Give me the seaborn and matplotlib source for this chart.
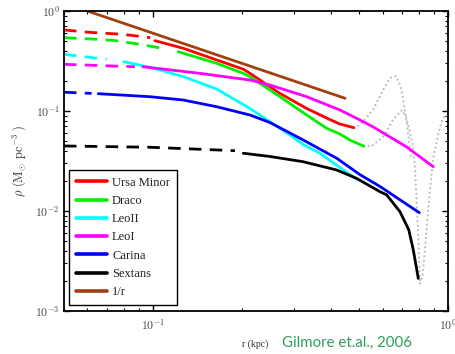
import numpy as np
import pandas as pd
import matplotlib
matplotlib.use("Agg")
import matplotlib.pyplot as plt
import seaborn as sns
from matplotlib.ticker import LogLocator, NullFormatter, FuncFormatter

sns.set_style("ticks")
plt.rcParams["mathtext.fontset"] = "cm"
plt.rcParams["font.family"] = ["DejaVu Sans"]

# ---------------- data (r in kpc, rho in Msun pc^-3) ----------------
um_dash_r = [0.05, 0.061, 0.079, 0.098]
um_dash_rho = [0.646, 0.612, 0.585, 0.541]
um_r = [0.1016, 0.1267, 0.1644, 0.2024, 0.2133, 0.2306, 0.2492, 0.2694, 0.332, 0.388, 0.430, 0.480]
um_rho = [0.505, 0.424, 0.324, 0.262, 0.238, 0.204, 0.175, 0.150, 0.106, 0.0851, 0.0741, 0.0681]

dr_dash_r = [0.05, 0.065, 0.075, 0.09, 0.111]
dr_dash_rho = [0.541, 0.521, 0.505, 0.465, 0.417]
dr_r = [0.1218, 0.1644, 0.2024, 0.2133, 0.2306, 0.2492, 0.2694, 0.332, 0.388, 0.430, 0.465, 0.519]
dr_rho = [0.392, 0.300, 0.238, 0.220, 0.189, 0.162, 0.139, 0.0912, 0.0671, 0.0589, 0.0513, 0.0444]

l2_dash_r = [0.05, 0.0697]
l2_dash_rho = [0.369, 0.329]
l2_r = [0.0797, 0.0977, 0.1267, 0.1644, 0.2133, 0.2492, 0.2913, 0.3232, 0.3683, 0.4195, 0.4903]
l2_rho = [0.311, 0.274, 0.221, 0.166, 0.106, 0.0782, 0.0575, 0.0462, 0.0378, 0.0287, 0.0207]

l1_dash_r = [0.05, 0.0869]
l1_dash_rho = [0.293, 0.277]
l1_r = [0.0925, 0.1443, 0.2133, 0.2492, 0.3319, 0.4304, 0.5031, 0.5581, 0.7244, 0.8916]
l1_rho = [0.277, 0.238, 0.204, 0.182, 0.139, 0.1023, 0.0813, 0.0692, 0.0437, 0.0277]

ca_dash_r = [0.05, 0.062]
ca_dash_rho = [0.154, 0.150]
ca_r = [0.0653, 0.0977, 0.1267, 0.1644, 0.2133, 0.2492, 0.2913, 0.3232, 0.4195, 0.5031, 0.5881, 0.7994]
ca_rho = [0.149, 0.139, 0.1288, 0.1104, 0.0912, 0.0767, 0.0603, 0.0513, 0.0337, 0.0231, 0.0176, 0.00962]

se_dash_r = [0.05, 0.0977, 0.1897]
se_dash_rho = [0.0447, 0.0434, 0.0401]
se_r = [0.2024, 0.2492, 0.3232, 0.4195, 0.4903, 0.5881, 0.6197, 0.6876, 0.7366, 0.7629, 0.7931]
se_rho = [0.0378, 0.0351, 0.0311, 0.0257, 0.0212, 0.0156, 0.0145, 0.00984, 0.00646, 0.00407, 0.00212]

inv_r = [0.06, 0.448]
inv_rho = [1.0, 0.134]

grey_a_r = [0.480, 0.503, 0.557, 0.602, 0.636, 0.666, 0.688, 0.704, 0.726, 0.749]
grey_a_rho = [0.0681, 0.0724, 0.1023, 0.1622, 0.2138, 0.2239, 0.182, 0.1349, 0.0724, 0.0347]
grey_b_r = [0.519, 0.5525, 0.6023, 0.6512, 0.6985, 0.7204, 0.7432, 0.7611, 0.7730, 0.7912,
            0.8037, 0.8228, 0.8422, 0.8622, 0.8896, 0.9178, 0.9395, 0.9618, 0.9922]
grey_b_rho = [0.0444, 0.0447, 0.0550, 0.0813, 0.1023, 0.0871, 0.0617, 0.0447, 0.0269, 0.00646,
              0.00186, 0.00240, 0.00562, 0.0126, 0.0331, 0.0513, 0.0692, 0.0851, 0.0891]

labels = ["Ursa Minor", "Draco", "LeoII", "LeoI", "Carina", "Sextans", "1/r"]
colors = ["#ff0000", "#00ee00", "#00ffff", "#ff00ff", "#0000ff", "#000000", "#a0400f"]

dashed = [(um_dash_r, um_dash_rho), (dr_dash_r, dr_dash_rho), (l2_dash_r, l2_dash_rho),
          (l1_dash_r, l1_dash_rho), (ca_dash_r, ca_dash_rho), (se_dash_r, se_dash_rho), None]
solid = [(um_r, um_rho), (dr_r, dr_rho), (l2_r, l2_rho), (l1_r, l1_rho),
         (ca_r, ca_rho), (se_r, se_rho), (inv_r, inv_rho)]

# ---------------- figure ----------------
fig = plt.figure(figsize=(4.56, 3.54), dpi=100)
ax = fig.add_axes([64/456, 43/354, 384/456, 300/354])

lw = 2.0
for (gr, grho) in [(grey_a_r, grey_a_rho), (grey_b_r, grey_b_rho)]:
    df = pd.DataFrame({"r": gr, "rho": grho})
    sns.lineplot(data=df, x="r", y="rho", ax=ax, color="#bdbdbd", lw=1.6,
                 linestyle=(0, (0.05, 2.0)), dash_capstyle="round", sort=False,
                 estimator=None, legend=False)

for lab, col, d, s in zip(labels, colors, dashed, solid):
    if d is not None:
        df = pd.DataFrame({"r": d[0], "rho": d[1]})
        sns.lineplot(data=df, x="r", y="rho", ax=ax, color=col, lw=lw,
                     linestyle=(0, (4.5, 3)), estimator=None, sort=False, legend=False)
    df = pd.DataFrame({"r": s[0], "rho": s[1]})
    sns.lineplot(data=df, x="r", y="rho", ax=ax, color=col, lw=lw,
                 estimator=None, sort=False, label=lab)

ax.set_xscale("log")
ax.set_yscale("log")
ax.set_xlim(0.05, 1.0)
ax.set_ylim(1e-3, 1.0)

fmt = FuncFormatter(lambda v, p: r"$10^{%d}$" % int(round(np.log10(v))))
ax.xaxis.set_major_locator(LogLocator(base=10))
ax.yaxis.set_major_locator(LogLocator(base=10))
ax.xaxis.set_minor_locator(LogLocator(base=10, subs=np.arange(2, 10)))
ax.yaxis.set_minor_locator(LogLocator(base=10, subs=np.arange(2, 10)))
ax.xaxis.set_major_formatter(fmt)
ax.yaxis.set_major_formatter(fmt)
ax.xaxis.set_minor_formatter(NullFormatter())
ax.yaxis.set_minor_formatter(NullFormatter())
ax.tick_params(which="both", direction="in", top=True, right=True,
               labelsize=8.5, labelcolor="#444444", color="black")
ax.tick_params(which="major", length=4, width=1.0)
ax.tick_params(which="minor", length=2.2, width=0.8)
ax.tick_params(axis="x", pad=5)
ax.tick_params(axis="y", pad=3)
for sp in ax.spines.values():
    sp.set_linewidth(1.3)
    sp.set_color("black")

ax.set_xlabel("r (kpc)", fontsize=7, family="Liberation Serif", color="#333333")
ax.xaxis.set_label_coords(0.497, -0.095)
ax.set_ylabel(r"$\rho\ (\mathrm{M}_{\odot}\ \mathrm{pc}^{-3}\ )$", fontsize=9, color="#333333")
ax.yaxis.set_label_coords(-0.095, 0.5)

fig.text(282/456, 11/354, "Gilmore et.al., 2006", color="#2e9e5b", fontsize=10.8,
         family="Lato", ha="left", va="center")

leg = ax.legend(loc="lower left", bbox_to_anchor=(5/384, 6/300), borderaxespad=0,
                prop={"family": "Liberation Serif", "size": 9}, frameon=True,
                fancybox=False, handlelength=2.5, handletextpad=0.4,
                labelspacing=0.5, borderpad=0.55)
leg.get_frame().set_edgecolor("black")
leg.get_frame().set_linewidth(1.0)
leg.get_frame().set_alpha(1)
for h in leg.get_lines():
    h.set_linewidth(2.6)
for t in leg.get_texts():
    t.set_color("#222222")

fig.savefig("out.png", dpi=100)
